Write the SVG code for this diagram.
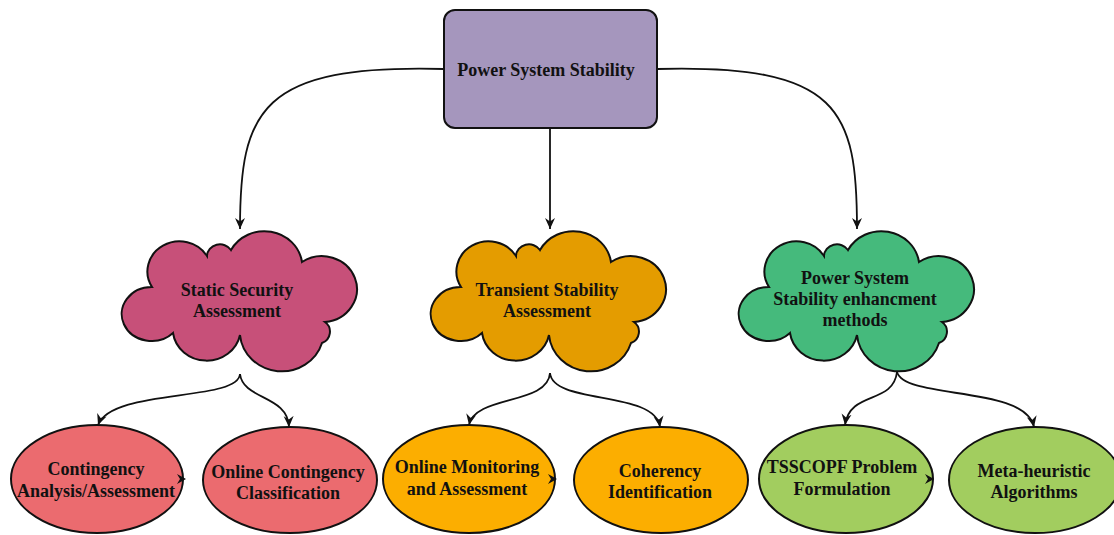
<svg xmlns="http://www.w3.org/2000/svg" width="1114" height="535" viewBox="0 0 1114 535">
<style>
text{font-family:"Liberation Serif","Times New Roman",serif;font-weight:bold;font-size:18px;fill:#111;text-anchor:middle}
.sh{stroke:#111;stroke-width:2}
.cn{fill:none;stroke:#111;stroke-width:1.8}
.ah{fill:#111;stroke:none}
</style>
<defs>
<marker id="arr" markerUnits="userSpaceOnUse" markerWidth="12" markerHeight="11" refX="11" refY="5.5" orient="auto">
<path d="M0,0.5 L11,5.5 L0,10.5 L3.5,5.5 Z" fill="#111"/>
</marker>
<path id="cloud" d="M173,333 A30,27 0 1 1 152,287 A32,30 0 0 1 207,256 A13,12 0 0 1 231,250 A38,36 0 0 1 302,262 A35,33 0 1 1 325,322 A12,12 0 0 1 322,343 A42,40 0 0 1 240,335 A34,32 0 0 1 173,333 Z"/>
</defs>
<rect width="1114" height="535" fill="#fff"/>
<g id="connectors">
<path class="cn" d="M444,69 C260,64 240,110 240,229" marker-end="url(#arr)"/>
<path class="cn" d="M550,128 L550,229" marker-end="url(#arr)"/>
<path class="cn" d="M657,69 C840,64 857,110 857,229" marker-end="url(#arr)"/>
<path class="cn" d="M240,374 C238,402 112,388 98,425" marker-end="url(#arr)"/>
<path class="cn" d="M240,374 C243,400 288,395 289,427" marker-end="url(#arr)"/>
<path class="cn" d="M550,373 C548,405 475,395 469,425" marker-end="url(#arr)"/>
<path class="cn" d="M550,373 C553,405 655,390 660,427" marker-end="url(#arr)"/>
<path class="cn" d="M897,372 C893,405 850,390 845,425" marker-end="url(#arr)"/>
<path class="cn" d="M897,372 C905,400 1025,385 1034,427" marker-end="url(#arr)"/>
</g>
<g id="power-system-stability">
<rect class="sh" x="444" y="10" width="213" height="118" rx="11" fill="#A596BD"/>
<text x="546" y="76">Power System Stability</text>
</g>
<g id="static-security">
<use href="#cloud" class="sh" fill="#C75079"/>
<text x="237" y="296">Static Security</text>
<text x="237" y="317">Assessment</text>
</g>
<g id="transient-stability">
<use href="#cloud" class="sh" fill="#E49C00" transform="translate(309,0)"/>
<text x="547" y="296">Transient Stability</text>
<text x="547" y="317">Assessment</text>
</g>
<g id="enhancement">
<use href="#cloud" class="sh" fill="#45BA7C" transform="translate(617,0)"/>
<text x="855" y="284">Power System</text>
<text x="855" y="305">Stability enhancment</text>
<text x="855" y="326">methods</text>
</g>
<g id="contingency-analysis">
<ellipse class="sh" cx="97" cy="479" rx="86" ry="54" fill="#EB6B6F"/>
<text x="96" y="475">Contingency</text>
<text x="96" y="497">Analysis/Assessment</text>
</g>
<g id="online-contingency">
<ellipse class="sh" cx="290" cy="480" rx="87" ry="53" fill="#EB6B6F"/>
<text x="288" y="478">Online Contingency</text>
<text x="288" y="499">Classification</text>
</g>
<g id="online-monitoring">
<ellipse class="sh" cx="469" cy="479" rx="86" ry="54" fill="#FCAE00"/>
<text x="467" y="473">Online Monitoring</text>
<text x="467" y="495">and Assessment</text>
</g>
<g id="coherency">
<ellipse class="sh" cx="661" cy="480" rx="87" ry="53" fill="#FCAE00"/>
<text x="660" y="477">Coherency</text>
<text x="660" y="498">Identification</text>
</g>
<g id="tsscopf">
<ellipse class="sh" cx="846" cy="479" rx="87" ry="54" fill="#A2CD5F"/>
<text x="842" y="473">TSSCOPF Problem</text>
<text x="842" y="495">Formulation</text>
</g>
<g id="meta-heuristic">
<ellipse class="sh" cx="1035" cy="480" rx="86" ry="53" fill="#A2CD5F"/>
<text x="1034" y="477">Meta-heuristic</text>
<text x="1034" y="498">Algorithms</text>
</g>
<g id="edge-marks">
<path class="ah" d="M177,474 L186,479 L177,484 L180,479 Z"/>
<path class="ah" d="M548,474 L557,479 L548,484 L551,479 Z"/>
<path class="ah" d="M925,474 L934,479 L925,484 L928,479 Z"/>
</g>
</svg>
